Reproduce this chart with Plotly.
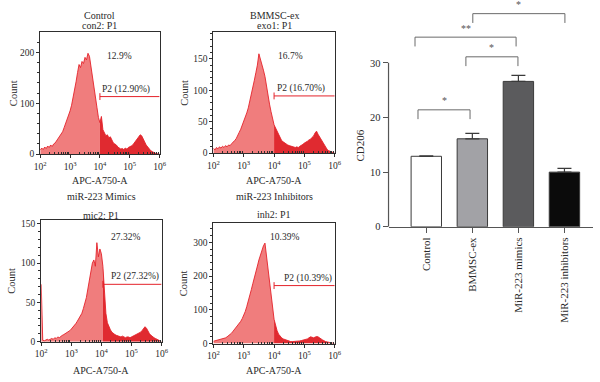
import plotly.graph_objects as go

# ---------------- data ----------------
# log10 bin positions of the APC-A750-A histograms (10^2 .. 10^6)
log_bins = [round(2 + 0.05 * i, 2) for i in range(81)]

control_counts = [8, 12, 9, 14, 11, 16, 13, 18, 15, 20, 22, 26, 30, 34, 38, 44, 52, 60, 66, 76,
                  85, 96, 110, 126, 142, 160, 176, 170, 182, 178, 190, 185, 198, 192, 170, 150, 130, 110, 92, 72,
                  62, 74, 48, 40, 36, 38, 32, 34, 26, 22, 20, 18, 14, 12, 10, 11, 9, 12, 10, 13,
                  14, 16, 18, 22, 26, 30, 34, 38, 36, 28, 24, 18, 14, 10, 7, 5, 3, 2, 1, 0, 0]
exo_counts = [8, 5, 9, 7, 10, 8, 11, 9, 12, 10, 13, 12, 15, 17, 20, 23, 27, 33, 38, 44,
              50, 56, 64, 72, 82, 94, 104, 116, 128, 140, 158, 150, 144, 132, 122, 106, 94, 78, 66, 54,
              45, 40, 33, 29, 24, 20, 18, 16, 14, 13, 12, 11, 10, 10, 9, 10, 9, 11, 12, 14,
              16, 17, 19, 21, 22, 25, 27, 32, 35, 30, 26, 20, 16, 12, 8, 6, 4, 3, 2, 1, 0]
mimics_counts = [73, 2, 1, 2, 3, 2, 3, 4, 3, 5, 4, 6, 5, 7, 8, 9, 10, 11, 13, 14,
                 16, 18, 21, 23, 26, 29, 33, 36, 42, 48, 56, 67, 80, 92, 100, 104, 96, 126, 108, 118,
                 112, 96, 64, 36, 24, 19, 15, 12, 10, 9, 8, 7, 7, 6, 7, 6, 5, 6, 6, 5,
                 6, 7, 7, 8, 9, 10, 12, 14, 16, 19, 17, 13, 10, 8, 6, 5, 4, 3, 2, 1, 0]
inhib_counts = [7, 8, 9, 10, 11, 12, 14, 15, 17, 20, 23, 27, 31, 37, 43, 48, 52, 58, 66, 74,
                84, 95, 110, 125, 142, 160, 178, 198, 216, 230, 248, 264, 280, 290, 298, 262, 224, 186, 140, 104,
                72, 50, 38, 28, 22, 17, 14, 12, 10, 8, 7, 6, 6, 6, 7, 7, 8, 8, 9, 10,
                11, 12, 14, 17, 20, 19, 17, 19, 21, 20, 18, 14, 11, 8, 6, 5, 4, 3, 2, 1, 0]

hist_titles = ["Control", "BMMSC-ex", "miR-223 Mimics", "miR-223 Inhibitors"]
hist_subtitles = ["con2: P1", "exo1: P1", "mic2: P1", "inh2: P1"]
hist_counts = [control_counts, exo_counts, mimics_counts, inhib_counts]
gate_log = [4.0, 4.0, 4.05, 4.0]
gate_level = [113, 91, 73, 172]
pct_text = ["12.9%", "16.7%", "27.32%", "10.39%"]
gate_text = ["P2 (12.90%)", "P2 (16.70%)", "P2 (27.32%)", "P2 (10.39%)"]
y_max = [239, 192, 155, 358]
y_ticks = [[0, 100, 200], [0, 50, 100, 150], [0, 50, 100, 150], [0, 100, 200, 300]]
x_tick_vals = [1e2, 1e3, 1e4, 1e5, 1e6]
x_tick_text = ["10<sup>2</sup>", "10<sup>3</sup>", "10<sup>4</sup>", "10<sup>5</sup>", "10<sup>6</sup>"]

bar_categories = ["Control", "BMMSC-ex", "MiR-223 mimics", "MiR-223 inhibitors"]
cd206_values = [12.9, 16.1, 26.6, 10.0]
cd206_errors = [0.1, 1.0, 1.1, 0.7]
bar_colors = ["#ffffff", "#a2a2a6", "#5b5b5d", "#0b0b0b"]
# significance brackets: (left x, right x, top y, label) in category / CD206 units
sig_left = [-0.18, 0.86, -0.245, 1.01]
sig_right = [0.95, 1.99, 1.95, 3.01]
sig_top = [21.4, 31.1, 34.7, 39.0]
sig_label = ["*", "*", "**", "*"]

# ---------------- layout helpers ----------------
W, H = 600, 382
SERIF = "Liberation Serif"
TXT = "#2a2a2a"
RED = "#e4222a"
LIGHT = "#f07d7d"
DARK = "#e02a30"
FRAME = "#2e2e2e"


def px(xp):
    return xp / W


def py(yp):
    return 1 - yp / H


# plot-area boxes (left, right, top, bottom) in pixels
boxes = [(35, 157, 32, 156), (212, 336, 32, 155), (36, 159, 223, 347), (212, 336, 226, 349)]
title_y = [(15, 25), (15, 25), (199, 218), (199, 217)]
count_x = [7, 183, 6, 181]
xtitle_y = [183, 183, 376, 376]
pct_pos = [(4.64, 192), (4.55, 154), (4.8, 133), (4.36, 317)]
gate_text_x = [4.0, 4.03, 4.24, 4.27]
minor_x = [k * 10 ** d for d in range(2, 6) for k in range(2, 10)]
minor_dy = [20, 10, 10, 20]

fig = go.Figure()
annotations = []
shapes = []
layout_axes = {}

for i in range(4):
    n = i + 1
    xa = "x" if n == 1 else f"x{n}"
    ya = "y" if n == 1 else f"y{n}"
    counts = hist_counts[i]
    g = gate_log[i]
    lx = [10 ** b for b, c in zip(log_bins, counts) if b <= g + 1e-9]
    ly = [c for b, c in zip(log_bins, counts) if b <= g + 1e-9]
    dx = [10 ** b for b, c in zip(log_bins, counts) if b >= g - 1e-9]
    dy = [c for b, c in zip(log_bins, counts) if b >= g - 1e-9]
    fig.add_trace(go.Scatter(x=lx, y=ly, mode="lines", fill="tozeroy", fillcolor=LIGHT,
                             line=dict(color=RED, width=0.9), xaxis=xa, yaxis=ya,
                             hoverinfo="skip", showlegend=False))
    fig.add_trace(go.Scatter(x=dx, y=dy, mode="lines", fill="tozeroy", fillcolor=DARK,
                             line=dict(color=RED, width=0.9), xaxis=xa, yaxis=ya,
                             hoverinfo="skip", showlegend=False))
    # gate
    gl = gate_level[i]
    d = y_max[i] * 3.5 / (boxes[i][3] - boxes[i][2])
    fig.add_trace(go.Scatter(x=[10 ** g, 1e6], y=[gl, gl], mode="lines",
                             line=dict(color=RED, width=1), xaxis=xa, yaxis=ya,
                             hoverinfo="skip", showlegend=False))
    fig.add_trace(go.Scatter(x=[10 ** g, 10 ** g], y=[gl - d, gl + d], mode="lines",
                             line=dict(color=RED, width=1), xaxis=xa, yaxis=ya,
                             hoverinfo="skip", showlegend=False))
    annotations.append(dict(x=gate_text_x[i], y=gl, xref=xa, yref=ya, text=gate_text[i],
                            showarrow=False, xanchor="left", yanchor="bottom", yshift=0,
                            font=dict(family=SERIF, size=9.5, color=TXT)))
    annotations.append(dict(x=pct_pos[i][0], y=pct_pos[i][1], xref=xa, yref=ya, text=pct_text[i],
                            showarrow=False, xanchor="center", yanchor="middle",
                            font=dict(family=SERIF, size=9.5, color=TXT)))
    l, r, t, b = boxes[i]
    cx = (l + r) / 2
    annotations.append(dict(x=px(cx), y=py(title_y[i][0]), xref="paper", yref="paper",
                            text=hist_titles[i], showarrow=False, xanchor="center", yanchor="middle",
                            font=dict(family=SERIF, size=10, color=TXT)))
    annotations.append(dict(x=px(cx), y=py(title_y[i][1]), xref="paper", yref="paper",
                            text=hist_subtitles[i], showarrow=False, xanchor="center", yanchor="middle",
                            font=dict(family=SERIF, size=10, color=TXT)))
    annotations.append(dict(x=px(count_x[i]), y=py((t + b) / 2), xref="paper", yref="paper",
                            text="Count", textangle=-90, showarrow=False, xanchor="center",
                            yanchor="middle", font=dict(family=SERIF, size=10.5, color=TXT)))
    annotations.append(dict(x=px(cx), y=py(xtitle_y[i]), xref="paper", yref="paper",
                            text="APC-A750-A", showarrow=False, xanchor="center", yanchor="middle",
                            font=dict(family=SERIF, size=10, color=TXT)))
    axis_font = dict(family=SERIF, size=9.5, color=TXT)
    layout_axes["xaxis" if n == 1 else f"xaxis{n}"] = dict(
        type="log", range=[2, 6], domain=[px(l), px(r)], anchor=ya,
        tickmode="array", tickvals=x_tick_vals, ticktext=x_tick_text,
        ticks="outside", ticklen=3, tickcolor=FRAME, showline=True, mirror=True,
        linecolor=FRAME, linewidth=1, showgrid=False, zeroline=False, tickfont=axis_font,
        minor=dict(tickmode="array", tickvals=minor_x, ticks="inside", ticklen=2, tickcolor=FRAME))
    layout_axes["yaxis" if n == 1 else f"yaxis{n}"] = dict(
        range=[0, y_max[i]], domain=[py(b), py(t)], anchor=xa,
        tickmode="array", tickvals=y_ticks[i], ticks="outside", ticklen=3, tickcolor=FRAME,
        showline=True, mirror=True, linecolor=FRAME, linewidth=1, showgrid=False,
        zeroline=False, tickfont=axis_font,
        minor=dict(dtick=minor_dy[i], tick0=0, ticks="outside", ticklen=2, tickcolor=FRAME))

# ---------------- bar chart ----------------
fig.add_trace(go.Bar(x=list(range(len(bar_categories))), y=cd206_values, width=0.66,
                     marker=dict(color=bar_colors, line=dict(color="#3a3a3a", width=1)),
                     error_y=dict(type="data", array=cd206_errors,
                                  arrayminus=[0] * len(cd206_errors), symmetric=False,
                                  color="#3a3a3a", thickness=1.2, width=7),
                     xaxis="x5", yaxis="y5", showlegend=False, hoverinfo="skip"))

for xl, xr, yt, lab in zip(sig_left, sig_right, sig_top, sig_label):
    fig.add_trace(go.Scatter(x=[xl, xl, xr, xr], y=[yt - 1.7, yt, yt, yt - 1.7], mode="lines",
                             line=dict(color="#6a6a6a", width=1), xaxis="x5", yaxis="y5",
                             showlegend=False, hoverinfo="skip"))
    annotations.append(dict(x=(xl + xr) / 2, y=yt + 0.3, xref="x5", yref="y5", text=lab,
                            showarrow=False, xanchor="center", yanchor="bottom",
                            font=dict(family=SERIF, size=10, color="#555")))

layout_axes["xaxis5"] = dict(domain=[px(391), 1.0], range=[-0.82, 3.62], anchor="y5",
                             tickmode="array", tickvals=list(range(len(bar_categories))),
                             ticktext=bar_categories, tickangle=-90, ticks="outside", ticklen=5,
                             tickcolor="#555", showline=True, linecolor="#555", linewidth=1.2,
                             showgrid=False, zeroline=False,
                             tickfont=dict(family=SERIF, size=11, color=TXT))
layout_axes["yaxis5"] = dict(domain=[py(230), 1.0], range=[0, 230 / 5.567], anchor="x5",
                             tickmode="array", tickvals=[0, 10, 20, 30], ticks="outside",
                             ticklen=5, tickcolor="#555", tickwidth=1.2, showline=False,
                             showgrid=False, zeroline=False,
                             tickfont=dict(family=SERIF, size=10.5, color=TXT))
shapes.append(dict(type="line", xref="paper", yref="y5", x0=px(391), x1=px(391), y0=0, y1=30,
                   line=dict(color="#555", width=1.2)))
annotations.append(dict(x=px(362), y=py(147), xref="paper", yref="paper", text="CD206",
                        textangle=-90, showarrow=False, xanchor="center", yanchor="middle",
                        font=dict(family=SERIF, size=11, color=TXT)))

fig.update_layout(width=W, height=H, margin=dict(l=0, r=0, t=0, b=0), autosize=False,
                  paper_bgcolor="white", plot_bgcolor="rgba(0,0,0,0)",
                  annotations=annotations, shapes=shapes, showlegend=False, **layout_axes)

fig.write_html("out.html", config={"staticPlot": True, "displayModeBar": False},
               post_script="document.body.style.margin='0px';document.body.style.padding='0px';")
